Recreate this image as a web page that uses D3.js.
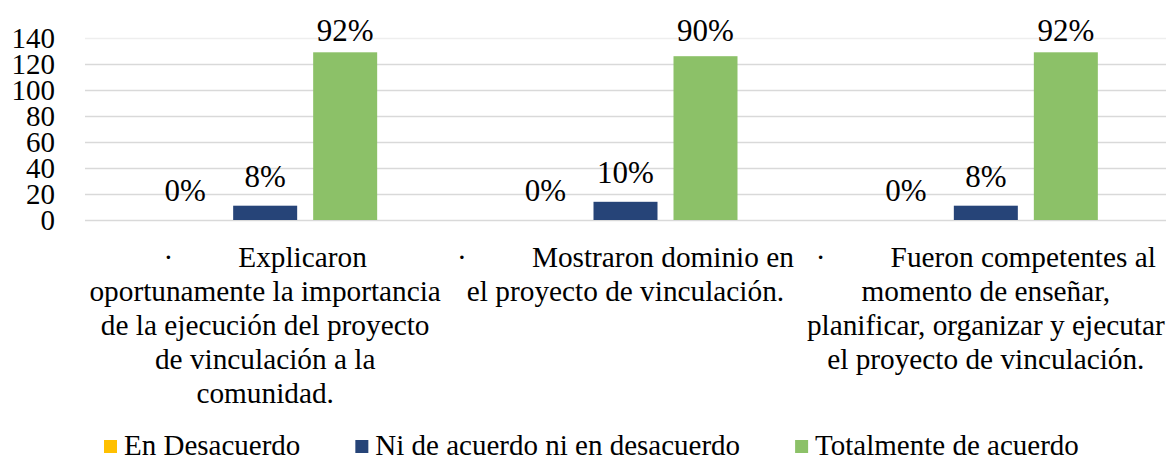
<!DOCTYPE html>
<html lang="es">
<head>
<meta charset="utf-8">
<script src="https://cdn.jsdelivr.net/npm/d3@7/dist/d3.min.js"></script>
<style>
body { margin:0; background:#fff; }
svg { display:block; }
svg text { font-family:"Liberation Serif","Times New Roman",serif; fill:#000; }
.grid line { stroke:#d9d9d9; stroke-width:1.3; }
.grid text { font-size:29px; }
.dlabel { font-size:31px; text-anchor:middle; }
.clabel { font-size:29.3px; }
.legend text { font-size:29px; }
</style>
</head>
<body>
<svg id="chart"></svg>
<script>
// data
var categories = ["c1", "c2", "c3"];
var categoryLines = [
	["Explicaron", "oportunamente la importancia", "de la ejecución del proyecto", "de vinculación a la", "comunidad."],
	["Mostraron dominio en", "el proyecto de vinculación."],
	["Fueron competentes al", "momento de enseñar,", "planificar, organizar y ejecutar", "el proyecto de vinculación."]
];
var seriesNames = ["En Desacuerdo", "Ni de acuerdo ni en desacuerdo", "Totalmente de acuerdo"];
var seriesColors = ["#ffc000", "#264478", "#8cc168"];
var desacuerdo = [0, 0, 0];
var niAcuerdo = [11, 14, 11];
var totalmente = [129, 126, 129];
var pctDesacuerdo = ["0%", "0%", "0%"];
var pctNiAcuerdo = ["8%", "10%", "8%"];
var pctTotalmente = ["92%", "90%", "92%"];
var yTicks = [0, 20, 40, 60, 80, 100, 120, 140];

var values = [desacuerdo, niAcuerdo, totalmente];
var pcts = [pctDesacuerdo, pctNiAcuerdo, pctTotalmente];

var W = 1173, H = 460;
var pLeft = 85, pRight = 1166, pTop = 38, pBottom = 220;

var svg = d3.select('#chart').attr('width', W).attr('height', H);
svg.append('rect').attr('width', W).attr('height', H).attr('fill', '#fff');

var x = d3.scaleBand().domain(categories).range([pLeft, pRight]);
var y = d3.scaleLinear().domain([0, 140]).range([pBottom, pTop]);
var xs = d3.scaleBand().domain(seriesNames).range([0, 240]).paddingInner(0.2).paddingOuter(0.1);

// grid + y labels
var grid = svg.append('g').attr('class', 'grid')
	.attr('transform', 'translate(' + pLeft + ',0)')
	.call(d3.axisLeft(y).tickValues(yTicks).tickSize(-(pRight - pLeft)).tickPadding(30));
grid.attr('font-family', null).attr('font-size', null);
grid.select('.domain').remove();
grid.selectAll('text').attr('dy', '0.34em');
grid.selectAll('.tick').filter(function(d){ return d === 140; }).select('line').style('stroke', '#eeeeee');

// bars
var rows = [];
categories.forEach(function(c, ci){
	seriesNames.forEach(function(s, si){
		rows.push({c:c, s:s, si:si, v:values[si][ci], p:pcts[si][ci]});
	});
});

function barX(d){ return x(d.c) + x.bandwidth() / 2 - 120 + xs(d.s); }

svg.append('g').selectAll('rect')
	.data(rows)
	.enter()
	.append('rect')
	.attr('x', barX)
	.attr('y', function(d){ return y(d.v); })
	.attr('width', xs.bandwidth())
	.attr('height', function(d){ return y(0) - y(d.v); })
	.attr('fill', function(d){ return seriesColors[d.si]; });

svg.append('g').selectAll('text')
	.data(rows)
	.enter()
	.append('text')
	.attr('class', 'dlabel')
	.attr('x', function(d){ return barX(d) + xs.bandwidth() / 2; })
	.attr('y', function(d){ return Math.max(y(d.v) - 19, 41); })
	.text(function(d){ return d.p; });

// category labels
var lab = svg.append('g');
categories.forEach(function(c, ci){
	var cx = x(c) + x.bandwidth() / 2;
	categoryLines[ci].forEach(function(line, li){
		var by = 267 + li * 34;
		if (li === 0) {
			var t = lab.append('text').attr('class', 'clabel').attr('y', by);
			t.append('tspan').text('·');
			t.append('tspan').attr('dx', 65).text(line);
			var total = t.node().getComputedTextLength() + 65;
			t.attr('x', cx - total / 2);
		} else {
			lab.append('text').attr('class', 'clabel')
				.attr('x', cx).attr('y', by)
				.attr('text-anchor', 'middle')
				.text(line);
		}
	});
});

// legend
var lg = svg.append('g').attr('class', 'legend');
var lx = 104;
seriesNames.forEach(function(s, si){
	lg.append('rect').attr('x', lx).attr('y', 440).attr('width', 13).attr('height', 13).attr('fill', seriesColors[si]);
	var t = lg.append('text').attr('x', lx + 20).attr('y', 455).text(s);
	lx += 20 + t.node().getComputedTextLength() + 55;
});
</script>
</body>
</html>
